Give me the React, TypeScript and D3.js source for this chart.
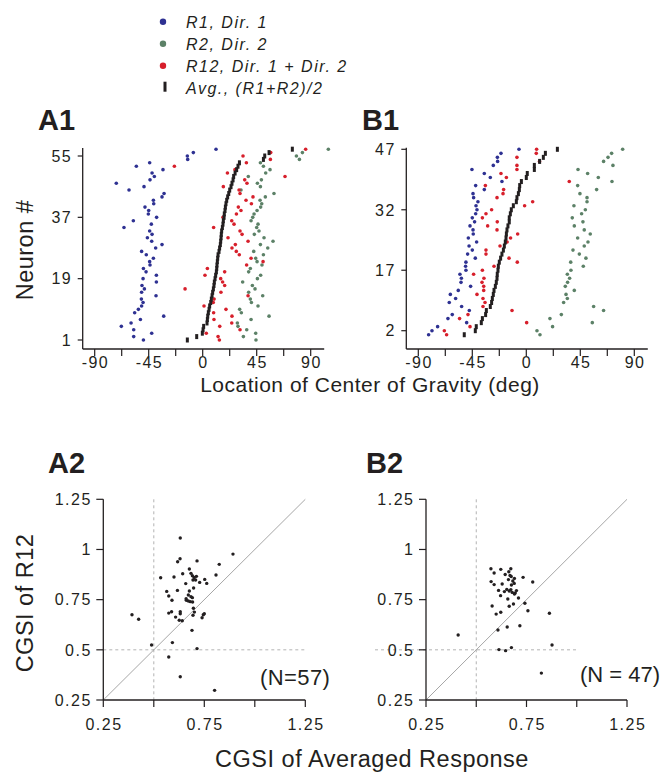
import React from "react";
import * as d3 from "d3";

// ---------- DATA ----------
// Panel A1: 57 neurons, location of center of gravity (deg), neuron #1..57
const A1_R1 = [-49.4, -57.5, -42.5, -57.5, -67.8, -59.7, -51.9, -32.5, -56.7, -53.6, -50.9, -49.7, -51.1, -38.9, -50.9, -48.6, -50.6, -38.6, -49.7, -38.6, -47.2, -49.4, -43.9, -44.2, -41.1, -47, -50.9, -39.2, -33.9, -42.5, -46.1, -42.2, -44.2, -65.6, -42.8, -57.8, -38.4, -45.3, -45, -48.1, -40.8, -41.1, -33.9, -32.2, -61.4, -48.9, -72, -43.9, -40.3, -42.2, -33.1, -55.3, -44.2, -12.5, -12.8, -7.8, 11.1];
const A1_R2 = [44.4, 33.9, 44.2, 36.7, 29.4, 28.9, 40.3, 55.3, 32.2, 30.8, 46.1, 40.6, 39.7, 50, 38.3, 43.6, 41.4, 33.3, 45.6, 48.3, 38.3, 39.7, 49.4, 45.3, 44.2, 50.6, 42.5, 54.2, 48.1, 58.6, 51.1, 43, 46.9, 45, 46.1, 40.3, 41.7, 42.8, 45.3, 48.3, 49.2, 47.8, 52.2, 59.4, 31.9, 48.1, 45.6, 48.9, 38, 52.5, 56.1, 50.6, 48.1, 80.6, 78.1, 83.1, 104.7];
const A1_R12 = [13.9, 12.8, 3, 31.1, 14.2, 24.2, 9.4, 24.4, 9.1, 19.4, 1.1, 8.8, 9.5, 37.8, 15.2, -14.7, 18.3, 16.6, 15, 1.9, 18.3, 3.9, 36.6, 50.3, 40.3, 30.5, 28, 24.4, 27.2, 37.8, 21.1, 32.8, 31.1, 9.1, 26.1, 24.2, 16.9, 28.1, 31.9, 29.7, 40.6, 36.1, 41.9, 31.1, 30.3, 17.2, 36.9, 35, 68.6, 20.6, 26.9, -23.6, 36.4, 56.4, 33.6, 56.7, 85.8];
const A1_AVG = [-12.8, -5, -0.3, 0.3, 0.8, 3.6, 3.9, 4.2, 4.7, 5.3, 5.8, 6.7, 7.2, 7.8, 8.3, 8.9, 9.4, 9.7, 10.3, 10.8, 11.4, 11.7, 11.9, 12.2, 12.5, 12.8, 13.6, 14.1, 14.7, 15, 15.3, 15.5, 15.8, 16.4, 16.9, 17.2, 17.8, 18, 18.6, 18.9, 19.4, 20, 20.8, 21.7, 22.5, 23.6, 24.4, 25.3, 25.8, 27, 28.3, 29.4, 30.6, 50.6, 51.7, 55.3, 74.7];

// Panel B1: 47 neurons
const B1_R1 = [-81.4, -78.6, -73.9, -49.7, -65.3, -61.7, -47.5, -53.9, -64.2, -58.9, -63.3, -56.7, -46.4, -54.4, -54.1, -55.3, -50.3, -50.6, -50.3, -42.5, -48.9, -45, -47.7, -41.4, -48.3, -44.2, -44.4, -46.9, -43.1, -45, -42.2, -41.1, -41.9, -40.3, -43.9, -44.4, -35, -42.2, -20.3, -30, -35, -45.3, -27.5, -23.9, -24.1, -21.1, -6.1];
const B1_R2 = [11.4, 8.9, 21.9, 55, 19.7, 29.2, 64.4, 56.1, 31.1, 34.2, 33.1, 40, 32.5, 34.4, 36.1, 34.2, 37.2, 47.5, 37, 49.7, 44.2, 38.9, 48.3, 51.4, 42.8, 53.3, 48.3, 40, 47.2, 38.3, 46.1, 49.2, 39.7, 50.6, 50.6, 44.7, 58.6, 42.8, 71.4, 60, 51.1, 43.1, 72.2, 64.4, 68.1, 71.1, 80.3];
const B1_R12 = [-66.4, -68.3, -46.9, 0.3, -55.6, -48.6, -11.9, -36.1, -34.4, -36.1, -41.1, -35.5, -35.5, -36.9, -35.3, -43.9, -36.6, -26.9, -7.5, -14.4, -33.6, -33.6, -21.9, -16, -13.1, -7.2, -24.4, -32.2, -24.2, -36.6, -33.6, -28.9, -1.4, 5.3, -24.4, -19.4, -18.9, -34.1, 35.8, -16.6, -21.1, -7.8, -7.8, 11, -7.8, 8.3, 8.6];
const B1_AVG = [-51.7, -42.5, -41.7, -37.5, -36.6, -33.9, -33.3, -30, -28.9, -28.3, -27.5, -26.9, -25.8, -25, -24.4, -24.2, -23.6, -23.3, -22.5, -21.4, -20.3, -19.1, -18.3, -17.5, -16.9, -16.6, -16.1, -15.3, -14.2, -14.2, -13.3, -12.5, -10.8, -8.3, -7.8, -6.6, -5.8, -5.5, -4.1, 0, 0.8, 6.7, 6.7, 11.1, 14.2, 15.9, 25.9];

// Panel A2 / B2: CGSI of averaged response (x) vs CGSI of R12 (y)
const A2_X = [0.631, 0.892, 0.63, 0.618, 0.714, 0.824, 0.534, 0.6, 0.643, 0.676, 0.684, 0.691, 0.711, 0.694, 0.707, 0.727, 0.752, 0.762, 0.808, 0.658, 0.697, 0.564, 0.617, 0.676, 0.574, 0.59, 0.671, 0.684, 0.691, 0.661, 0.671, 0.681, 0.692, 0.696, 0.701, 0.694, 0.574, 0.588, 0.631, 0.631, 0.608, 0.626, 0.641, 0.739, 0.745, 0.75, 0.689, 0.592, 0.714, 0.489, 0.574, 0.631, 0.801, 0.392, 0.425, 0.7, 0.66];
const A2_Y = [1.057, 0.977, 0.954, 0.939, 0.943, 0.926, 0.859, 0.863, 0.879, 0.903, 0.881, 0.869, 0.866, 0.848, 0.848, 0.836, 0.851, 0.831, 0.873, 0.83, 0.808, 0.791, 0.796, 0.793, 0.768, 0.747, 0.773, 0.765, 0.76, 0.747, 0.743, 0.74, 0.738, 0.707, 0.688, 0.672, 0.683, 0.69, 0.69, 0.68, 0.663, 0.647, 0.645, 0.66, 0.675, 0.68, 0.597, 0.536, 0.506, 0.524, 0.464, 0.366, 0.298, 0.675, 0.652, 0.86, 0.755];
const B2_X = [0.573, 0.622, 0.672, 0.662, 0.589, 0.644, 0.674, 0.69, 0.733, 0.66, 0.682, 0.689, 0.781, 0.574, 0.589, 0.629, 0.675, 0.652, 0.611, 0.664, 0.679, 0.694, 0.621, 0.657, 0.71, 0.69, 0.742, 0.685, 0.579, 0.664, 0.757, 0.599, 0.622, 0.864, 0.717, 0.654, 0.608, 0.41, 0.877, 0.613, 0.646, 0.675, 0.824, 0.668, 0.672, 0.64, 0.7];
const B2_Y = [0.904, 0.901, 0.904, 0.889, 0.883, 0.875, 0.865, 0.856, 0.861, 0.85, 0.843, 0.831, 0.838, 0.84, 0.825, 0.828, 0.823, 0.801, 0.796, 0.793, 0.786, 0.783, 0.77, 0.753, 0.758, 0.778, 0.732, 0.728, 0.718, 0.717, 0.695, 0.678, 0.687, 0.682, 0.62, 0.614, 0.599, 0.574, 0.524, 0.501, 0.496, 0.511, 0.384, 0.87, 0.8, 0.79, 0.795];

const DEG_TICKS = [-90, -67.5, -45, -22.5, 0, 22.5, 45, 67.5, 90];
const DEG_LABELS = [-90, -45, 0, 45, 90];
const A1_NEURON_TICKS = [1, 19, 37, 55];
const B1_NEURON_TICKS = [2, 17, 32, 47];
const CGSI_TICKS = [0.25, 0.5, 0.75, 1, 1.25];
const CGSI_X_LABELS = [0.25, 0.75, 1.25];
const CGSI_Y_LABELS = ["0.25", "0.5", "0.75", "1", "1.25"];

const LEGEND = [
  { key: "r1", label: "R1, Dir. 1" },
  { key: "r2", label: "R2, Dir. 2" },
  { key: "r12", label: "R12, Dir. 1 + Dir. 2" },
  { key: "avg", label: "Avg., (R1+R2)/2" },
];

// ---------- STYLE ----------
const FONT = "'Liberation Sans', Arial, Helvetica, sans-serif";
const COL: Record<string, string> = {
  r1: "#2e3192",
  r2: "#5c8167",
  r12: "#d71f2b",
  avg: "#231f20",
};
const AX = "#231f20";
const TICK_FS = 16;
const TICK_LS = 1.5;

function NeuronPanel(props: {
  x: d3.ScaleLinear<number, number>;
  y: d3.ScaleLinear<number, number>;
  yTop: number;
  axisY: number;
  nTicks: number[];
  r1: number[];
  r2: number[];
  r12: number[];
  avg: number[];
}) {
  const { x, y, yTop, axisY, nTicks, r1, r2, r12, avg } = props;
  const [x0, x1] = x.range();
  const series: [string, number[]][] = [
    ["r1", r1],
    ["r2", r2],
    ["r12", r12],
  ];
  return (
    <g>
      {series.map(([k, arr]) =>
        arr.map((v, i) => (
          <circle key={k + i} cx={x(v)} cy={y(i + 1)} r={1.8} fill={COL[k]} />
        ))
      )}
      {avg.map((v, i) => (
        <rect key={"a" + i} x={x(v) - 1.5} y={y(i + 1) - 2.5} width={3} height={5} fill={COL.avg} />
      ))}
      <line x1={x0} x2={x1 + 1.5} y1={axisY} y2={axisY} stroke={AX} strokeWidth={1.3} />
      <line x1={x0} x2={x0} y1={yTop} y2={axisY} stroke={AX} strokeWidth={1.3} />
      {DEG_TICKS.map((t) => (
        <line key={"xt" + t} x1={x(t)} x2={x(t)} y1={axisY} y2={axisY + 7} stroke={AX} strokeWidth={1.2} />
      ))}
      {DEG_LABELS.map((t) => (
        <text
          key={"xl" + t}
          x={x(t) + TICK_LS / 2}
          y={368}
          textAnchor="middle"
          fontSize={TICK_FS}
          style={{ letterSpacing: TICK_LS }}
          fill="#231f20"
        >
          {String(t)}
        </text>
      ))}
      {nTicks.map((t) => (
        <g key={"yt" + t}>
          <line x1={x0 - 5} x2={x0} y1={y(t)} y2={y(t)} stroke={AX} strokeWidth={1.2} />
          <text
            x={x0 - 12 + TICK_LS}
            y={y(t)}
            dy="0.36em"
            textAnchor="end"
            fontSize={TICK_FS}
            style={{ letterSpacing: TICK_LS }}
            fill="#231f20"
          >
            {t}
          </text>
        </g>
      ))}
    </g>
  );
}

function ScatterPanel(props: {
  x: d3.ScaleLinear<number, number>;
  y: d3.ScaleLinear<number, number>;
  xs: number[];
  ys: number[];
  hDashStart: number;
  hDashEnd: number;
}) {
  const { x, y, xs, ys, hDashStart, hDashEnd } = props;
  const [x0, x1] = x.range();
  const [yb, yt] = y.range();
  return (
    <g>
      <line x1={x(0.5)} x2={x(0.5)} y1={yt} y2={yb} stroke="#b3b3b3" strokeWidth={1} strokeDasharray="3,3" />
      <line x1={hDashStart} x2={hDashEnd} y1={y(0.5)} y2={y(0.5)} stroke="#b3b3b3" strokeWidth={1} strokeDasharray="3,3" />
      <line x1={x(0.25)} y1={y(0.25)} x2={x(1.25)} y2={y(1.25)} stroke="#a6a6a6" strokeWidth={1} />
      {xs.map((v, i) => (
        <circle key={i} cx={x(v)} cy={y(ys[i])} r={1.7} fill="#231f20" />
      ))}
      <line x1={x0} x2={x1} y1={yb} y2={yb} stroke={AX} strokeWidth={1.3} />
      <line x1={x0} x2={x0} y1={yt} y2={yb} stroke={AX} strokeWidth={1.3} />
      {CGSI_TICKS.map((t) => (
        <line key={"xt" + t} x1={x(t)} x2={x(t)} y1={yb} y2={yb + 7} stroke={AX} strokeWidth={1.2} />
      ))}
      {CGSI_X_LABELS.map((t) => (
        <text
          key={"xl" + t}
          x={x(t) + TICK_LS / 2}
          y={730}
          textAnchor="middle"
          fontSize={TICK_FS}
          style={{ letterSpacing: TICK_LS }}
          fill="#231f20"
        >
          {String(t)}
        </text>
      ))}
      {CGSI_TICKS.map((t, i) => (
        <g key={"yt" + t}>
          <line x1={x0 - 7} x2={x0} y1={y(t)} y2={y(t)} stroke={AX} strokeWidth={1.2} />
          <text
            x={x0 - 13 + TICK_LS}
            y={y(t)}
            dy="0.36em"
            textAnchor="end"
            fontSize={TICK_FS}
            style={{ letterSpacing: TICK_LS }}
            fill="#231f20"
          >
            {CGSI_Y_LABELS[i]}
          </text>
        </g>
      ))}
    </g>
  );
}

export default function App() {
  const xA1 = d3.scaleLinear().domain([-100, 100]).range([82.7, 322.7]);
  const yA1 = d3.scaleLinear().domain([1, 55]).range([340, 156]);
  const xB1 = d3.scaleLinear().domain([-100, 100]).range([406.3, 646.3]);
  const yB1 = d3.scaleLinear().domain([2, 47]).range([330.7, 149.3]);
  const xA2 = d3.scaleLinear().domain([0.25, 1.25]).range([103.3, 305.3]);
  const xB2 = d3.scaleLinear().domain([0.25, 1.25]).range([426, 627]);
  const yS = d3.scaleLinear().domain([0.25, 1.25]).range([700, 499.3]);

  const legendY = d3.scaleLinear().domain([0, 3]).range([27.7, 93.7]);

  return (
    <svg
      width={664}
      height={772}
      viewBox="0 0 664 772"
      style={{ position: "absolute", left: 0, top: 0, background: "#fff" }}
      fontFamily={FONT}
    >
      <rect width={664} height={772} fill="#fff" />
      {/* Legend */}
      {LEGEND.map((d, i) => (
        <g key={d.key}>
          {d.key === "avg" ? (
            <rect x={163.5} y={legendY(i) - 12} width={3} height={10} fill={COL.avg} />
          ) : (
            <circle cx={163} cy={legendY(i) - 6} r={3.2} fill={COL[d.key]} />
          )}
          <text
            x={186}
            y={legendY(i)}
            fontSize={16}
            fontStyle="italic"
            style={{ letterSpacing: 1.5 }}
            fill="#231f20"
          >
            {d.label}
          </text>
        </g>
      ))}

      {/* Panel labels */}
      <text x={38} y={130} fontSize={29} fontWeight="bold" fill="#231f20">A1</text>
      <text x={362} y={130} fontSize={29} fontWeight="bold" fill="#231f20">B1</text>
      <text x={48} y={473} fontSize={29} fontWeight="bold" fill="#231f20">A2</text>
      <text x={366} y={473} fontSize={29} fontWeight="bold" fill="#231f20">B2</text>

      <NeuronPanel x={xA1} y={yA1} yTop={148} axisY={349} nTicks={A1_NEURON_TICKS} r1={A1_R1} r2={A1_R2} r12={A1_R12} avg={A1_AVG} />
      <NeuronPanel x={xB1} y={yB1} yTop={147.7} axisY={349} nTicks={B1_NEURON_TICKS} r1={B1_R1} r2={B1_R2} r12={B1_R12} avg={B1_AVG} />

      <text x={370} y={392} textAnchor="middle" fontSize={21} style={{ letterSpacing: 0.5 }} fill="#231f20">
        Location of Center of Gravity (deg)
      </text>
      <text transform="translate(32.5,250) rotate(-90)" textAnchor="middle" fontSize={23.5} style={{ letterSpacing: 0.5 }} fill="#231f20">
        Neuron #
      </text>

      <ScatterPanel x={xA2} y={yS} xs={A2_X} ys={A2_Y} hDashStart={103.3} hDashEnd={305.3} />
      <ScatterPanel x={xB2} y={yS} xs={B2_X} ys={B2_Y} hDashStart={375} hDashEnd={xB2(1)} />

      <text x={260} y={685} fontSize={22} style={{ letterSpacing: 0.4 }} fill="#231f20">(N=57)</text>
      <text x={580} y={682} fontSize={22} fill="#231f20">(N = 47)</text>

      <text transform="translate(33,603) rotate(-90)" textAnchor="middle" fontSize={23.5} style={{ letterSpacing: 0.5 }} fill="#231f20">
        CGSI of R12
      </text>
      <text x={372} y={767} textAnchor="middle" fontSize={23.5} style={{ letterSpacing: 0.5 }} fill="#231f20">
        CGSI of Averaged Response
      </text>
    </svg>
  );
}
